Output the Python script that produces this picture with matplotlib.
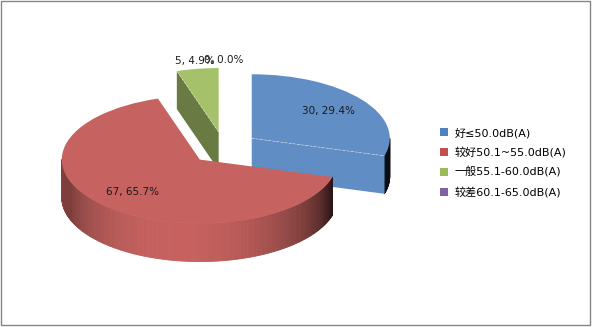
import numpy as np
import matplotlib
matplotlib.use("Agg")
import matplotlib.pyplot as plt
from matplotlib.patches import Wedge, Polygon, Patch, Rectangle
from matplotlib.collections import PolyCollection
from matplotlib.colors import to_rgb

plt.rcParams["font.family"] = ["DejaVu Sans", "Noto Sans CJK SC"]

categories = ["好≤50.0dB(A)", "较好50.1~55.0dB(A)", "一般55.1-60.0dB(A)", "较差60.1-65.0dB(A)"]
counts = [30, 67, 5, 0]
colors = ["#4F81BD", "#C0504D", "#9BBB59", "#8064A2"]

# layout (pixels of the 592x327 canvas)
W, H = 592, 327
CX, CY = 224, 148      # pie centre
RX, RY = 138, 64       # ellipse radii
DEPTH = 38 / RY        # thickness in y data units
EXPLODE = 0.252


def lighten(c, amt=0.1):
    c = np.array(to_rgb(c))
    return tuple(c + (1 - c) * amt)


def shade(c, normal_deg):
    # key light from the front, soft fill from the left
    key = max(0.0, np.cos(np.radians(normal_deg + 100))) ** 0.7
    fill = 0.65 * max(0.0, np.cos(np.radians(normal_deg + 180))) ** 0.5
    f = max(0.1, key, fill)
    return tuple(np.clip(np.array(to_rgb(lighten(c))) * f, 0, 1))


def front_ranges(lo, hi):
    out = []
    for a, b in [(-540, -360), (-180, 0), (180, 360)]:
        s, e = max(lo, a), min(hi, b)
        if e > s:
            out.append((s, e))
    return out


fig = plt.figure(figsize=(W / 100, H / 100), dpi=100)
ax = fig.add_axes([0, 0, 1, 1])
ax.set_xlim(-CX / RX, (W - CX) / RX)
ax.set_ylim(-(H - CY) / RY, CY / RY)
ax.axis("off")

total = sum(counts)
fracs = [v / total for v in counts]
starts = 90 - 360 * np.concatenate([[0], np.cumsum(fracs)[:-1]])
ends = starts - 360 * np.array(fracs)

for i, (v, p) in enumerate(zip(counts, fracs)):
    t_hi, t_lo = starts[i], ends[i]
    mid = np.radians((t_hi + t_lo) / 2)
    ox, oy = EXPLODE * np.cos(mid), EXPLODE * np.sin(mid)
    z = 2 - oy  # back slices first
    col = colors[i]

    if v > 0:
        # outer wall in thin strips
        polys, fcs = [], []
        for s, e in front_ranges(t_lo, t_hi):
            ts = np.linspace(s, e, max(2, int(e - s) + 1))
            for a, b in zip(ts[:-1], ts[1:]):
                ra, rb = np.radians(a), np.radians(b)
                polys.append([(ox + np.cos(ra), oy + np.sin(ra)),
                              (ox + np.cos(rb), oy + np.sin(rb)),
                              (ox + np.cos(rb), oy + np.sin(rb) - DEPTH),
                              (ox + np.cos(ra), oy + np.sin(ra) - DEPTH)])
                fcs.append(shade(col, (a + b) / 2))
        if polys:
            ax.add_collection(PolyCollection(polys, facecolors=fcs, edgecolors=fcs,
                                             linewidths=0.6, zorder=z))
        # radial cut faces
        for ang, normal in [(t_hi, t_hi + 90), (t_lo, t_lo - 90)]:
            if np.sin(np.radians(normal)) < -1e-6:
                r = np.radians(ang)
                ex, ey = ox + np.cos(r), oy + np.sin(r)
                ax.add_patch(Polygon([(ox, oy), (ex, ey), (ex, ey - DEPTH), (ox, oy - DEPTH)],
                                     closed=True, facecolor=shade(col, normal),
                                     edgecolor="none", zorder=z))
                ax.plot([ox, ex], [oy, ey], color="white", alpha=0.45, lw=0.6,
                        ls=(0, (3, 2)), zorder=z + 0.6)
        ax.add_patch(Wedge((ox, oy), 1.0, t_lo, t_hi, facecolor=lighten(col),
                           edgecolor="none", zorder=z + 0.5))

    # data labels
    dist = 0.7 if p >= 0.1 else 1.12
    ax.text(ox + dist * np.cos(mid), oy + dist * np.sin(mid), f"{v}, {p * 100:.1f}%",
            ha="center", va="center", fontsize=7.5, color="#1a1a1a", zorder=10)

handles = [Patch(facecolor=c, edgecolor="none") for c in colors]
fig.legend(handles, categories, loc="upper left", bbox_to_anchor=(0.743, 0.61),
           frameon=False, fontsize=8, handlelength=0.72, handleheight=0.72,
           handletextpad=0.63, labelspacing=0.8, borderpad=0, borderaxespad=0)

fig.patches.append(Rectangle((0.5 / W, 2.5 / H), 1 - 2.5 / W, 1 - 3 / H,
                             transform=fig.transFigure, fill=False,
                             edgecolor="#868686", linewidth=1))

fig.savefig("out.png", dpi=100)
